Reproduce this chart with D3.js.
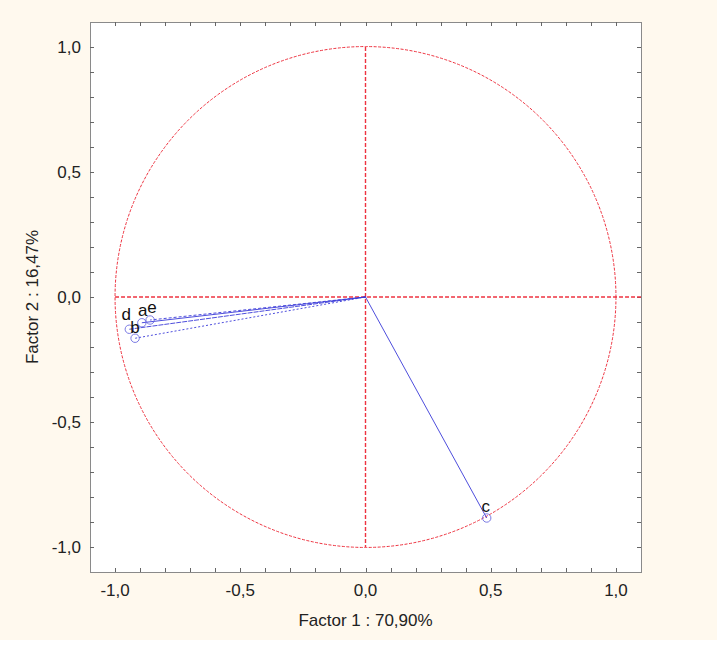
<!DOCTYPE html>
<html><head><meta charset="utf-8">
<script src="https://cdn.jsdelivr.net/npm/d3@7"></script>
<style>body{margin:0;background:#fff;}svg{display:block;}</style>
</head><body>
<svg id="c" width="722" height="645"></svg>
<script>
const labels = ["a","b","c","d","e"];
const factor1 = [-0.893, -0.920, 0.484, -0.943, -0.860];
const factor2 = [-0.103, -0.165, -0.884, -0.129, -0.092];
const dashes = ["none","2,2","none","5,1","3,2"];
const xTickLabels = [-1.0,-0.5,0.0,0.5,1.0];
const yTickLabels = [-1.0,-0.5,0.0,0.5,1.0];
const xTitle = "Factor 1 : 70,90%";
const yTitle = "Factor 2 : 16,47%";

const svg = d3.select("#c");
svg.append("rect").attr("x",0).attr("y",0).attr("width",717).attr("height",640).attr("fill","#fff9ee");
const L=90,R=641,T=22,B=572;
const x = d3.scaleLinear().domain([-1.1,1.1]).range([L,R]);
const y = d3.scaleLinear().domain([-1.1,1.1]).range([B,T]);
svg.append("rect").attr("x",L+0.5).attr("y",T+0.5).attr("width",R-L).attr("height",B-T).attr("fill","#fff").attr("stroke","#8a8a8a").attr("stroke-width",1);

const fmt = v => d3.format(".1f")(v).replace(".",",").replace("−","-");
const minor = d3.range(-10,11).map(i=>i/10);
const font = "Liberation Sans, Arial, sans-serif";
const g = svg.append("g").attr("font-family",font).attr("font-size",17).attr("fill","#222");
const tk = "#666";
minor.forEach(v=>{
  const px = Math.round(x(v))+0.5, py = Math.round(y(v))+0.5;
  g.append("line").attr("x1",px).attr("x2",px).attr("y1",B).attr("y2",B-4).attr("stroke",tk);
  g.append("line").attr("x1",px).attr("x2",px).attr("y1",T).attr("y2",T+4).attr("stroke",tk);
  g.append("line").attr("y1",py).attr("y2",py).attr("x1",L).attr("x2",L+4).attr("stroke",tk);
  g.append("line").attr("y1",py).attr("y2",py).attr("x1",R).attr("x2",R-4).attr("stroke",tk);
});
xTickLabels.forEach(v=>{
  g.append("text").attr("x",x(v)).attr("y",B+24).attr("text-anchor","middle").text(fmt(v));
});
yTickLabels.forEach(v=>{
  g.append("text").attr("x",L-9).attr("y",y(v)+6).attr("text-anchor","end").text(fmt(v));
});
g.append("text").attr("x",x(0)).attr("y",B+54).attr("text-anchor","middle").text(xTitle);
g.append("text").attr("transform",`translate(38,${y(0)}) rotate(-90)`).attr("text-anchor","middle").text(yTitle);

// circle and axes lines
const red="#ee3340";
svg.append("circle").attr("cx",x(0)).attr("cy",y(0)).attr("r",x(1)-x(0)).attr("fill","none").attr("stroke",red).attr("stroke-width",1).attr("stroke-dasharray","3,1.5");
svg.append("line").attr("x1",x(-1)).attr("x2",x(1.1)).attr("y1",y(0)).attr("y2",y(0)).attr("stroke",red).attr("stroke-width",1.4).attr("stroke-dasharray","4,2");
svg.append("line").attr("x1",x(0)).attr("x2",x(0)).attr("y1",y(1)).attr("y2",y(-1)).attr("stroke",red).attr("stroke-width",1.4).attr("stroke-dasharray","4,2");

// vectors
const pts = labels.map((l,i)=>({l, f1:factor1[i], f2:factor2[i], d:dashes[i]}));
const vg = svg.append("g");
vg.selectAll("line.v").data(pts).join("line")
  .attr("x1",x(0)).attr("y1",y(0)).attr("x2",d=>x(d.f1)).attr("y2",d=>y(d.f2))
  .attr("stroke","#3a3ad8").attr("stroke-width",0.9).attr("stroke-dasharray",d=>d.d);
vg.selectAll("circle.p").data(pts).join("circle")
  .attr("cx",d=>x(d.f1)).attr("cy",d=>y(d.f2)).attr("r",4.2)
  .attr("fill","none").attr("stroke","#6a6ae0").attr("stroke-width",0.9);
const off = {a:[1,-7],b:[0,-5],c:[-1,-6],d:[-3,-9],e:[2,-7]};
vg.selectAll("text.l").data(pts).join("text")
  .attr("x",d=>x(d.f1)+off[d.l][0]).attr("y",d=>y(d.f2)+off[d.l][1]).attr("text-anchor","middle")
  .attr("font-family",font).attr("font-size",17).attr("fill","#111")
  .text(d=>d.l);
</script>
</body></html>
